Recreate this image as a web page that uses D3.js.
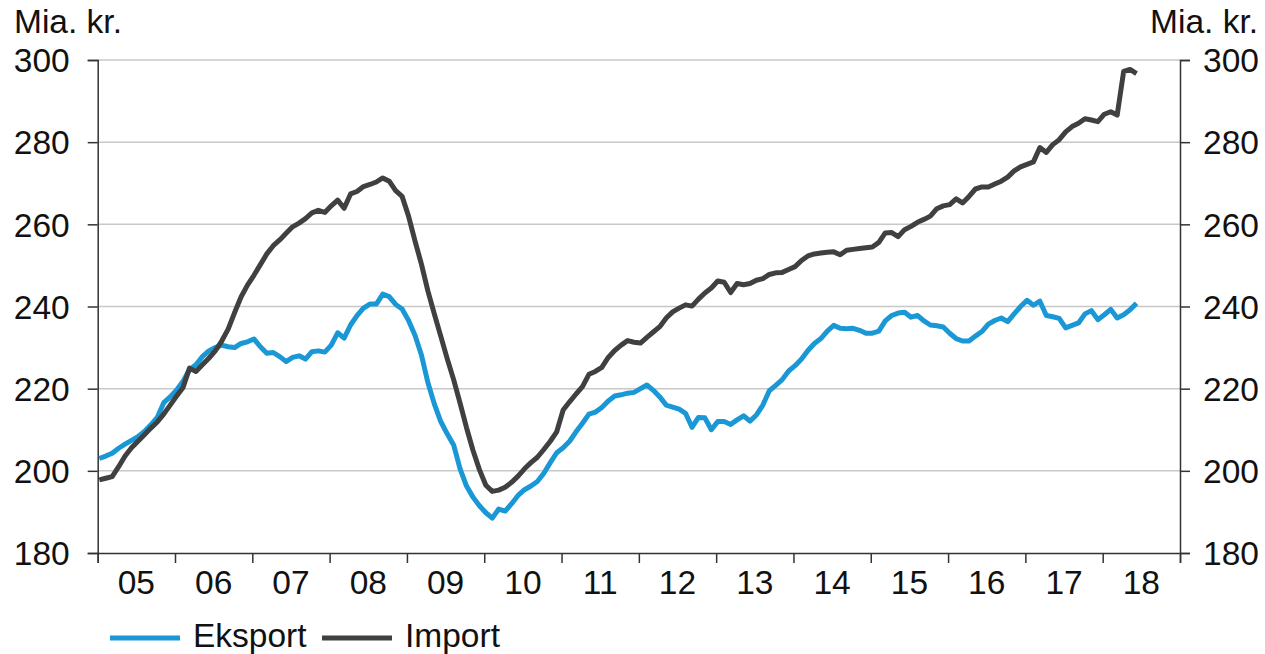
<!DOCTYPE html>
<html>
<head>
<meta charset="utf-8">
<script src="https://cdn.jsdelivr.net/npm/d3@7"></script>
<style>
  body { margin: 0; background: #fff; }
  text { font-family: "Liberation Sans", Arial, sans-serif; fill: #111; }
</style>
</head>
<body>
<div id="chart"></div>
<script>
// Månedlige værdier jan 2005 - jun 2018 (mia. kr.)
const startYear = 2005;
const yearLabels = ["05","06","07","08","09","10","11","12","13","14","15","16","17","18"];
const yTicks = [180, 200, 220, 240, 260, 280, 300];

const eksport = [
  203.0, 203.6, 204.3, 205.5, 206.5, 207.4, 208.3, 209.6, 211.2, 213.0, 216.6, 218.0,
  219.7, 221.8, 224.6, 225.8, 227.8, 229.2, 230.0, 230.6, 230.2, 230.0, 231.0, 231.4,
  232.1, 230.2, 228.6, 228.8, 227.8, 226.6, 227.6, 228.0, 227.2, 229.0, 229.2, 228.9,
  230.6, 233.6, 232.3, 235.5, 237.8, 239.6, 240.6, 240.6, 243.0, 242.4, 240.5, 239.4,
  236.6, 233.0, 228.2, 221.5, 216.3, 212.0, 209.0, 206.3, 200.5, 196.3, 193.6, 191.5,
  189.8, 188.5, 190.7, 190.2, 192.0, 194.0, 195.4, 196.3, 197.4, 199.4, 202.0, 204.4,
  205.6, 207.2, 209.5, 211.6, 213.8, 214.3, 215.4, 217.0, 218.2, 218.5, 218.9, 219.1,
  220.0, 220.9, 219.6, 218.0, 216.0, 215.5, 215.0, 214.0, 210.6, 213.0, 212.9, 210.0,
  212.0, 212.0, 211.3, 212.4, 213.4, 212.1, 213.6, 216.0, 219.5, 220.8, 222.2, 224.3,
  225.6, 227.2, 229.3, 231.0, 232.2, 234.0, 235.4, 234.7, 234.6, 234.7, 234.2, 233.5,
  233.5, 234.0, 236.5, 237.8, 238.4, 238.6, 237.4, 237.8, 236.5, 235.5, 235.3, 235.0,
  233.5, 232.2, 231.6, 231.6, 232.8, 233.9, 235.7, 236.6, 237.2, 236.3, 238.2, 240.0,
  241.5, 240.3, 241.3, 237.8, 237.5, 237.1, 234.8, 235.4, 236.0, 238.2, 239.0, 236.8,
  238.0, 239.3, 237.2, 238.0, 239.2, 240.8
];

const importVal = [
  197.8, 198.2, 198.6, 201.0, 203.6, 205.6, 207.2, 208.8, 210.4, 211.9, 213.8, 216.0,
  218.2, 220.3, 225.0, 224.2, 225.8, 227.4, 229.2, 231.6, 234.5, 238.5, 242.3, 245.2,
  247.6, 250.2, 252.8, 254.8, 256.2, 257.8, 259.4, 260.3, 261.4, 262.8, 263.4, 262.9,
  264.5, 265.9, 263.9, 267.4, 268.0, 269.2, 269.7, 270.3, 271.3, 270.5, 268.2, 266.8,
  262.0, 256.0, 250.3, 243.8, 238.2, 232.8, 227.3, 222.2, 216.5, 210.5, 205.0, 200.3,
  196.5, 195.0, 195.3, 196.0, 197.2, 198.7, 200.5, 202.0, 203.3, 205.2, 207.2, 209.5,
  214.8, 216.8, 218.7, 220.5, 223.5, 224.2, 225.2, 227.6, 229.3, 230.6, 231.7, 231.3,
  231.1, 232.5, 233.8, 235.1, 237.2, 238.7, 239.6, 240.4, 240.1, 241.8, 243.3, 244.5,
  246.2, 245.9, 243.4, 245.6, 245.3, 245.6, 246.4, 246.8, 247.8, 248.2, 248.3, 249.0,
  249.7, 251.2, 252.3, 252.8, 253.0, 253.2, 253.3, 252.6, 253.7, 253.9, 254.1, 254.3,
  254.5, 255.6, 257.9, 258.0, 257.0, 258.7, 259.5, 260.5, 261.2, 262.0, 263.8, 264.5,
  264.8, 266.2, 265.2, 266.8, 268.6, 269.1, 269.1, 269.8, 270.5, 271.5, 273.0, 274.0,
  274.6, 275.2, 278.7, 277.5, 279.4, 280.6, 282.5, 283.8, 284.6, 285.7, 285.4, 285.0,
  286.8, 287.4, 286.6, 297.2, 297.7, 296.7
];

const width = 1265, height = 654;
const plot = { left: 97.7, right: 1180, top: 60, bottom: 553 };
const fontSize = "33.5px";

const svg = d3.select("#chart").append("svg")
  .attr("width", width)
  .attr("height", height);

const x = d3.scaleLinear()
  .domain([startYear, startYear + yearLabels.length])
  .range([plot.left, plot.right]);

const y = d3.scaleLinear()
  .domain([180, 300])
  .range([plot.bottom, plot.top]);

const tOf = i => startYear + (i + 0.25) / 12;

// gitterlinjer
svg.append("g")
  .selectAll("line")
  .data(yTicks.filter(d => d > 180))
  .enter().append("line")
  .attr("x1", plot.left).attr("x2", plot.right)
  .attr("y1", d => y(d)).attr("y2", d => y(d))
  .attr("stroke", "#c8c8c8")
  .attr("stroke-width", 1.5);

// venstre akse
const yLeft = svg.append("g")
  .attr("transform", `translate(${plot.left},0)`)
  .call(d3.axisLeft(y).tickValues(yTicks).tickSize(10).tickPadding(18));
// højre akse
const yRight = svg.append("g")
  .attr("transform", `translate(${plot.right},0)`)
  .call(d3.axisRight(y).tickValues(yTicks).tickSize(10).tickPadding(13));

[yLeft, yRight].forEach(g => {
  g.select(".domain").attr("stroke", "#333").attr("stroke-width", 1.5);
  g.selectAll(".tick line").attr("stroke", "#333").attr("stroke-width", 1.5);
  g.selectAll(".tick text")
    .style("font-size", fontSize)
    .attr("fill", "#111")
    .attr("dy", "0.35em");
});

// x-akse med årsmærker
const yearTicks = d3.range(startYear, startYear + yearLabels.length + 1);
const xAxis = svg.append("g")
  .attr("transform", `translate(0,${plot.bottom})`)
  .call(d3.axisBottom(x).tickValues(yearTicks).tickSize(10).tickFormat(""));
xAxis.select(".domain").attr("stroke", "#333").attr("stroke-width", 1.5);
xAxis.selectAll(".tick line").attr("stroke", "#333").attr("stroke-width", 1.5);

svg.append("g")
  .selectAll("text")
  .data(yearLabels)
  .enter().append("text")
  .attr("x", (d, i) => x(startYear + i + 0.5))
  .attr("y", 594)
  .attr("text-anchor", "middle")
  .style("font-size", fontSize)
  .text(d => d);

// enhed
svg.append("text").attr("x", 14).attr("y", 33)
  .style("font-size", fontSize).text("Mia. kr.");
svg.append("text").attr("x", 1258).attr("y", 33)
  .attr("text-anchor", "end")
  .style("font-size", fontSize).text("Mia. kr.");

// serier
const line = d3.line()
  .x((d, i) => x(tOf(i)))
  .y(d => y(d));

const series = [
  { name: "Eksport", values: eksport, color: "#1a98d6" },
  { name: "Import", values: importVal, color: "#404040" }
];

svg.selectAll(".serie")
  .data(series)
  .enter().append("path")
  .attr("class", "serie")
  .attr("d", d => line(d.values))
  .attr("fill", "none")
  .attr("stroke", d => d.color)
  .attr("stroke-width", 5)
  .attr("stroke-linejoin", "round");

// signaturforklaring
const legend = svg.append("g");
const legendX = [110, 322];
series.forEach((s, i) => {
  legend.append("line")
    .attr("x1", legendX[i]).attr("x2", legendX[i] + 70)
    .attr("y1", 638).attr("y2", 638)
    .attr("stroke", s.color)
    .attr("stroke-width", 5);
  legend.append("text")
    .attr("x", legendX[i] + 83)
    .attr("y", 647)
    .style("font-size", fontSize)
    .text(s.name);
});
</script>
</body>
</html>
